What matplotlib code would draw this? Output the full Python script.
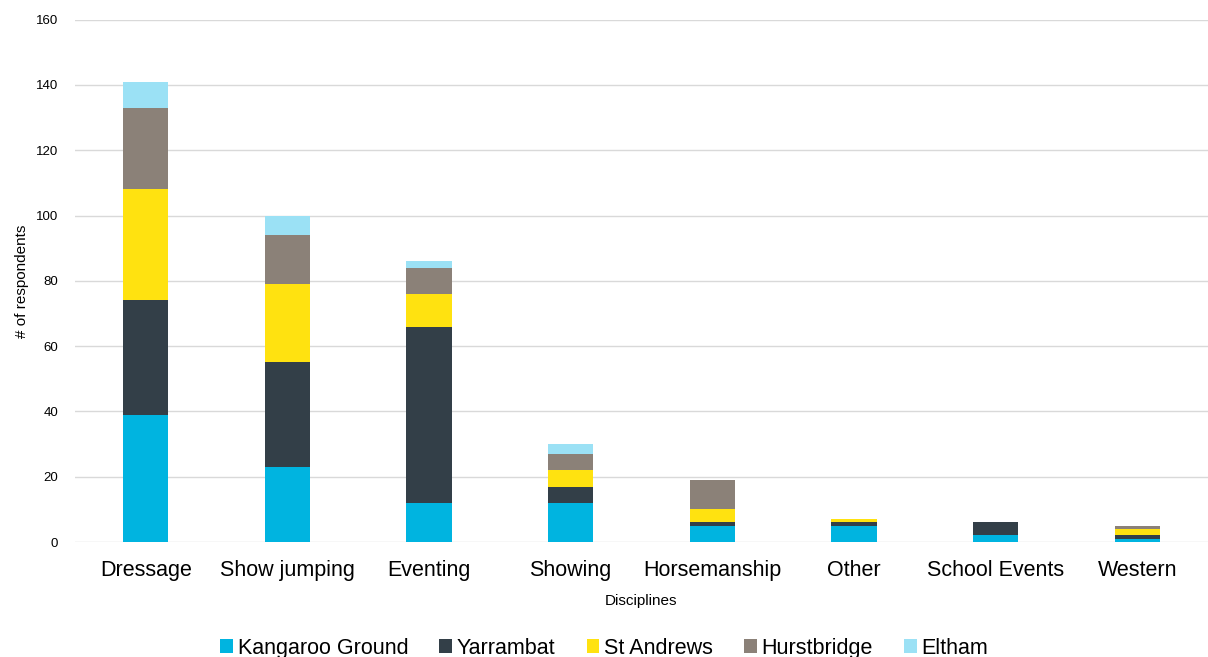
import matplotlib
matplotlib.use("Agg")
import matplotlib.pyplot as plt
import numpy as np

categories = ["Dressage", "Show jumping", "Eventing", "Showing", "Horsemanship",
              "Other", "School Events", "Western"]
series_names = ["Kangaroo Ground", "Yarrambat", "St Andrews", "Hurstbridge", "Eltham"]
kangaroo_ground = [39, 23, 12, 12, 5, 5, 2, 1]
yarrambat = [35, 32, 54, 5, 1, 1, 4, 1]
st_andrews = [34, 24, 10, 5, 4, 1, 0, 2]
hurstbridge = [25, 15, 8, 5, 9, 0, 0, 1]
eltham = [8, 6, 2, 3, 0, 0, 0, 0]
yticks = [0, 20, 40, 60, 80, 100, 120, 140, 160]

colors = ["#00B4E0", "#333F48", "#FFE210", "#8B8178", "#9BE1F5"]

plt.rcParams['font.family'] = ['Liberation Sans', 'DejaVu Sans']
fig = plt.figure(figsize=(12.08, 6.57), dpi=100)
ax = fig.add_axes([0.062, 0.175, 0.938, 0.795])

x = np.arange(len(categories))
bottom = np.zeros(len(categories))
for name, vals, c in zip(series_names,
                         [kangaroo_ground, yarrambat, st_andrews, hurstbridge, eltham],
                         colors):
    v = np.array(vals, dtype=float)
    ax.bar(x, v, 0.32, bottom=bottom, color=c, label=name, zorder=3)
    bottom += v

ax.set_xlim(-0.5, len(categories) - 0.5)
ax.set_ylim(0, 160)
ax.set_yticks(yticks)
ax.set_xticks(x)
ax.set_xticklabels(categories, fontsize=15.5)
ax.tick_params(axis='y', labelsize=9.5, length=0, pad=12)
ax.tick_params(axis='x', length=0, pad=13)
ax.grid(axis='y', color='#D9D9D9', linewidth=1, zorder=0)
for s in ax.spines.values():
    s.set_visible(False)
ax.set_xlabel("Disciplines", fontsize=11, labelpad=9)
ax.set_ylabel("# of respondents", fontsize=11, labelpad=5)

leg = fig.legend(loc='lower center', bbox_to_anchor=(0.5, -0.032), ncol=5, frameon=False,
                 fontsize=15.5, handlelength=0.6, handleheight=0.6, handletextpad=0.2,
                 columnspacing=1.45)

fig.savefig("out.png", dpi=100)
